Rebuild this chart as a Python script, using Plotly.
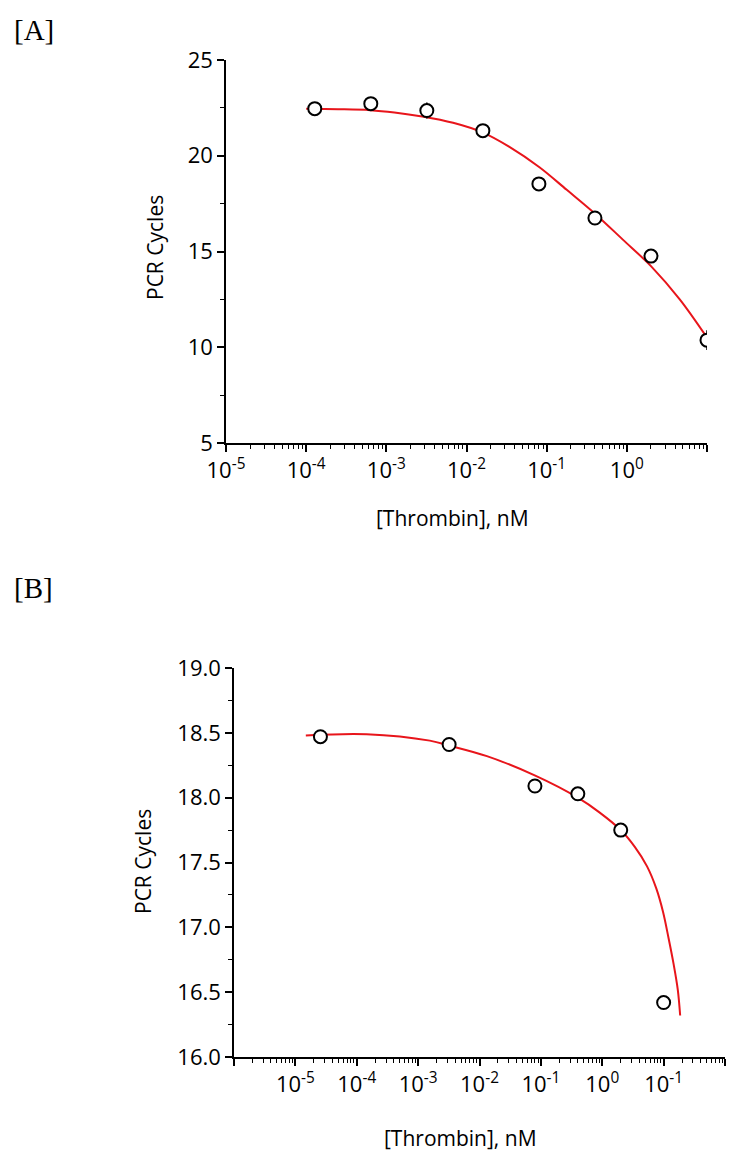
import plotly.graph_objects as go

# panel A: thrombin dilution series and measured PCR cycles
conc_a = [1.28e-4, 6.4e-4, 3.2e-3, 0.016, 0.08, 0.4, 2.0, 10.0]
cycles_a = [22.46, 22.72, 22.36, 21.31, 18.53, 16.75, 14.76, 10.37]
err_a = [0.2, 0.3, 0.42, 0.2, 0.15, 0.2, 0.15, 0.52]

# fitted curve A
fit_x_a = [1.0e-4, 2.5e-4, 6.3e-4, 1.26e-3, 2.8e-3, 6.8e-3, 0.0158, 0.0347,
           0.0813, 0.178, 0.407, 0.891, 2.04, 4.57, 10.2]
fit_y_a = [22.45, 22.43, 22.38, 22.26, 22.05, 21.72, 21.22, 20.45,
           19.40, 18.22, 16.95, 15.62, 14.20, 12.50, 10.45]

# panel B
conc_b = [2.56e-5, 3.2e-3, 0.08, 0.4, 2.0, 10.0]
cycles_b = [18.47, 18.41, 18.09, 18.03, 17.75, 16.42]

fit_x_b = [1.48e-5, 1.45e-4, 1.55e-3, 3.3e-3, 0.0132, 0.081, 0.40, 0.91,
           2.0, 3.39, 5.37, 7.59, 9.77, 12.0, 14.5, 17.0, 18.6]
fit_y_b = [18.48, 18.49, 18.44, 18.40, 18.32, 18.17, 18.00, 17.885,
           17.75, 17.62, 17.47, 17.30, 17.12, 16.92, 16.72, 16.52, 16.32]

ticks_a = [1e-5, 1e-4, 1e-3, 1e-2, 1e-1, 1e0, 1e1]
labels_a = ["10<sup>-5</sup>", "10<sup>-4</sup>", "10<sup>-3</sup>", "10<sup>-2</sup>",
            "10<sup>-1</sup>", "10<sup>0</sup>", " "]
ticks_b = [1e-6, 1e-5, 1e-4, 1e-3, 1e-2, 1e-1, 1e0, 1e1, 1e2]
labels_b = [" ", "10<sup>-5</sup>", "10<sup>-4</sup>", "10<sup>-3</sup>", "10<sup>-2</sup>",
            "10<sup>-1</sup>", "10<sup>0</sup>", "10<sup>-1</sup>", " "]

# the page body adds an 8px margin, so the figure is drawn 8px smaller and shifted
PAD = 8
W, H = 734 - PAD, 1159 - PAD
RED = "#e8151b"
FONT = "Open Sans"

def px(x):
    return (x - PAD) / W

def py(y):
    return 1 - (y - PAD) / H

fig = go.Figure()

marker_style = dict(symbol="circle", size=13, color="white", line=dict(width=2, color="black"))

fig.add_trace(go.Scatter(x=fit_x_a, y=fit_y_a, mode="lines", line=dict(color=RED, width=2, shape="spline"),
                         xaxis="x", yaxis="y", showlegend=False))
fig.add_trace(go.Scatter(x=conc_a, y=cycles_a, mode="markers",
                         error_y=dict(type="data", array=err_a, color="black", thickness=1.5, width=0),
                         marker=marker_style, xaxis="x", yaxis="y", showlegend=False))

fig.add_trace(go.Scatter(x=fit_x_b, y=fit_y_b, mode="lines", line=dict(color=RED, width=2, shape="spline"),
                         xaxis="x2", yaxis="y2", showlegend=False))
fig.add_trace(go.Scatter(x=conc_b, y=cycles_b, mode="markers", marker=marker_style,
                         xaxis="x2", yaxis="y2", showlegend=False))

axis_common = dict(showgrid=False, zeroline=False, showline=True, linecolor="black", linewidth=1.5,
                   ticks="outside", tickcolor="black", tickwidth=1.5, ticklen=7, automargin=False,
                   tickfont=dict(family=FONT, size=22, color="black"))
minor_log = dict(ticks="outside", ticklen=4, tickcolor="black", tickwidth=1.2, dtick="D1", showgrid=False)

fig.update_layout(
    width=W, height=H,
    margin=dict(l=0, r=0, t=0, b=0),
    paper_bgcolor="white", plot_bgcolor="white",
    xaxis=dict(axis_common, type="log", range=[-5, 1], domain=[px(226), px(707)], anchor="y",
               tickmode="array", tickvals=ticks_a, ticktext=labels_a, minor=minor_log),
    yaxis=dict(axis_common, range=[5, 25], domain=[py(443), py(60)], anchor="x",
               tickmode="linear", tick0=5, dtick=5,
               minor=dict(ticks="outside", ticklen=4, tickcolor="black", tickwidth=1.2, dtick=2.5, showgrid=False)),
    xaxis2=dict(axis_common, type="log", range=[-6, 2], domain=[px(234), px(725)], anchor="y2",
                tickmode="array", tickvals=ticks_b, ticktext=labels_b, minor=minor_log),
    yaxis2=dict(axis_common, range=[16, 19], domain=[py(1057), py(668)], anchor="x2",
                tickmode="linear", tick0=16, dtick=0.5, tickformat=".1f",
                minor=dict(ticks="outside", ticklen=4, tickcolor="black", tickwidth=1.2, dtick=0.25, showgrid=False)),
)

title_font = dict(family=FONT, size=21, color="black")
panel_font = dict(family="Liberation Serif", size=29, color="black")
notes = [
    dict(text="[A]", x=px(12), y=py(30), xanchor="left", yanchor="middle", font=panel_font),
    dict(text="[B]", x=px(12), y=py(588), xanchor="left", yanchor="middle", font=panel_font),
    dict(text="PCR Cycles", x=px(155), y=py(248), textangle=-90, xanchor="center", yanchor="middle", font=title_font),
    dict(text="PCR Cycles", x=px(143), y=py(862), textangle=-90, xanchor="center", yanchor="middle", font=title_font),
    dict(text="[Thrombin], nM", x=px(452), y=py(518), xanchor="center", yanchor="middle", font=title_font),
    dict(text="[Thrombin], nM", x=px(460), y=py(1138), xanchor="center", yanchor="middle", font=title_font),
]
for n in notes:
    fig.add_annotation(xref="paper", yref="paper", showarrow=False, **n)

fig.write_html("out.html")
